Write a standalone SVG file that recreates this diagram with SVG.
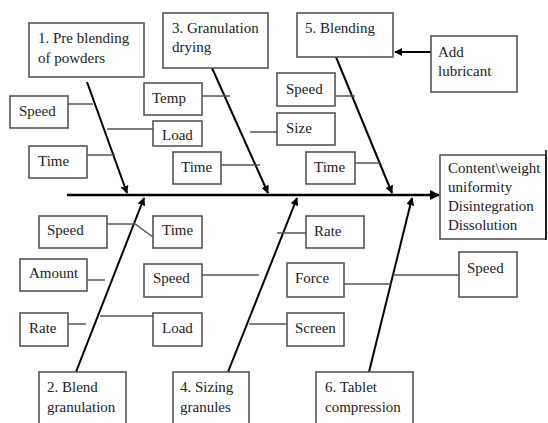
<svg xmlns="http://www.w3.org/2000/svg" width="548" height="423" viewBox="0 0 548 423">
<defs>
<marker id="ah" viewBox="0 0 10 10" refX="9" refY="5" markerWidth="4" markerHeight="4" orient="auto" markerUnits="strokeWidth">
<path d="M0,0 L10,5 L0,10 z" fill="#000"/>
</marker>
<style>
.box{fill:#fff;stroke:#555;stroke-width:1.6}
.br{stroke:#555;stroke-width:1.5;fill:none}
.bone{stroke:#000;stroke-width:2;fill:none;marker-end:url(#ah)}
</style>
</defs>
<rect width="548" height="423" fill="#fff"/>
<g id="connectors">
<line class="bone" x1="67" y1="195" x2="439" y2="195" style="stroke-width:2.5"/>
<line class="bone" x1="87" y1="82" x2="127" y2="193"/>
<line class="bone" x1="212" y1="68" x2="268" y2="193"/>
<line class="bone" x1="336" y1="57" x2="392" y2="193"/>
<line class="bone" x1="76" y1="372" x2="144" y2="198"/>
<line class="bone" x1="228" y1="372" x2="297" y2="198"/>
<line class="bone" x1="369" y1="372" x2="412" y2="198"/>
<line class="bone" x1="431" y1="52" x2="395" y2="52"/>
<polyline class="br" points="68,104 93,104"/>
<polyline class="br" points="107,129 153,129"/>
<polyline class="br" points="87,155 115,155"/>
<polyline class="br" points="202,96 230,96"/>
<polyline class="br" points="221,165 260,165"/>
<polyline class="br" points="250,132 277,132"/>
<polyline class="br" points="335,96 355,96"/>
<polyline class="br" points="355,163 380,163"/>
<polyline class="br" points="107,224 135,224 153,237"/>
<polyline class="br" points="87,280 105,280"/>
<polyline class="br" points="68,324 86,324"/>
<polyline class="br" points="100,316 153,316"/>
<polyline class="br" points="202,275 259,275"/>
<polyline class="br" points="277,233 306,233"/>
<polyline class="br" points="249,324 287,324"/>
<polyline class="br" points="344,284 392,284"/>
<polyline class="br" points="393,275 459,275"/>
</g>
<g id="n1"><rect class="box" x="29" y="23" width="115" height="54"/><text font-family="Liberation Serif" font-size="15" fill="#222" x="38" y="43">1. Pre blending</text><text font-family="Liberation Serif" font-size="15" fill="#222" x="38" y="63">of powders</text></g>
<g id="n3"><rect class="box" x="163" y="13" width="105" height="55"/><text font-family="Liberation Serif" font-size="15" fill="#222" x="172" y="33">3.  Granulation</text><text font-family="Liberation Serif" font-size="15" fill="#222" x="172" y="52">drying</text></g>
<g id="n5"><rect class="box" x="297" y="13" width="96" height="44"/><text font-family="Liberation Serif" font-size="15" fill="#222" x="305" y="33">5. Blending</text></g>
<g id="nAdd"><rect class="box" x="431" y="36" width="86" height="56"/><text font-family="Liberation Serif" font-size="15" fill="#222" x="438" y="57">Add</text><text font-family="Liberation Serif" font-size="15" fill="#222" x="438" y="76">lubricant</text></g>
<g id="nOut"><rect class="box" x="440" y="155" width="106" height="84"/><line x1="546" y1="150" x2="546" y2="240" stroke="#000" stroke-width="1.5"/><text font-family="Liberation Serif" font-size="15" fill="#222" x="448" y="173">Content\weight</text><text font-family="Liberation Serif" font-size="15" fill="#222" x="448" y="192">uniformity</text><text font-family="Liberation Serif" font-size="15" fill="#222" x="448" y="211">Disintegration</text><text font-family="Liberation Serif" font-size="15" fill="#222" x="448" y="230">Dissolution</text></g>
<g id="n2"><rect class="box" x="39" y="372" width="87" height="60"/><text font-family="Liberation Serif" font-size="15" fill="#222" x="47" y="392">2. Blend</text><text font-family="Liberation Serif" font-size="15" fill="#222" x="47" y="412">granulation</text></g>
<g id="n4"><rect class="box" x="173" y="372" width="76" height="60"/><text font-family="Liberation Serif" font-size="15" fill="#222" x="180" y="392">4. Sizing</text><text font-family="Liberation Serif" font-size="15" fill="#222" x="180" y="412">granules</text></g>
<g id="n6"><rect class="box" x="316" y="372" width="97" height="60"/><text font-family="Liberation Serif" font-size="15" fill="#222" x="325" y="392">6. Tablet</text><text font-family="Liberation Serif" font-size="15" fill="#222" x="325" y="412">compression</text></g>
<g id="speed1"><rect class="box" x="10" y="96" width="58" height="32"/><text font-family="Liberation Serif" font-size="15" fill="#222" x="19" y="116">Speed</text></g>
<g id="time1"><rect class="box" x="29" y="146" width="58" height="32"/><text font-family="Liberation Serif" font-size="15" fill="#222" x="38" y="166">Time</text></g>
<g id="temp"><rect class="box" x="144" y="83" width="58" height="32"/><text font-family="Liberation Serif" font-size="15" fill="#222" x="152" y="103">Temp</text></g>
<g id="load1"><rect class="box" x="153" y="121" width="49" height="25"/><text font-family="Liberation Serif" font-size="15" fill="#222" x="162" y="140">Load</text></g>
<g id="time3"><rect class="box" x="173" y="152" width="48" height="32"/><text font-family="Liberation Serif" font-size="15" fill="#222" x="181" y="172">Time</text></g>
<g id="speed5"><rect class="box" x="277" y="73" width="58" height="33"/><text font-family="Liberation Serif" font-size="15" fill="#222" x="286" y="94">Speed</text></g>
<g id="size"><rect class="box" x="277" y="113" width="58" height="32"/><text font-family="Liberation Serif" font-size="15" fill="#222" x="286" y="133">Size</text></g>
<g id="time5"><rect class="box" x="306" y="152" width="49" height="32"/><text font-family="Liberation Serif" font-size="15" fill="#222" x="314" y="172">Time</text></g>
<g id="speed2"><rect class="box" x="39" y="216" width="68" height="32"/><text font-family="Liberation Serif" font-size="15" fill="#222" x="47" y="235">Speed</text></g>
<g id="time2"><rect class="box" x="153" y="216" width="49" height="32"/><text font-family="Liberation Serif" font-size="15" fill="#222" x="162" y="235">Time</text></g>
<g id="amount"><rect class="box" x="20" y="259" width="67" height="32"/><text font-family="Liberation Serif" font-size="15" fill="#222" x="29" y="278">Amount</text></g>
<g id="speed4"><rect class="box" x="144" y="264" width="58" height="33"/><text font-family="Liberation Serif" font-size="15" fill="#222" x="153" y="283">Speed</text></g>
<g id="rate2"><rect class="box" x="20" y="313" width="48" height="33"/><text font-family="Liberation Serif" font-size="15" fill="#222" x="29" y="333">Rate</text></g>
<g id="load2"><rect class="box" x="153" y="313" width="49" height="33"/><text font-family="Liberation Serif" font-size="15" fill="#222" x="162" y="333">Load</text></g>
<g id="rate4"><rect class="box" x="306" y="216" width="58" height="32"/><text font-family="Liberation Serif" font-size="15" fill="#222" x="314" y="236">Rate</text></g>
<g id="force"><rect class="box" x="287" y="263" width="57" height="34"/><text font-family="Liberation Serif" font-size="15" fill="#222" x="295" y="283">Force</text></g>
<g id="screen"><rect class="box" x="287" y="313" width="57" height="33"/><text font-family="Liberation Serif" font-size="15" fill="#222" x="295" y="333">Screen</text></g>
<g id="speed6"><rect class="box" x="459" y="252" width="58" height="45"/><text font-family="Liberation Serif" font-size="15" fill="#222" x="467" y="273">Speed</text></g>
</svg>
